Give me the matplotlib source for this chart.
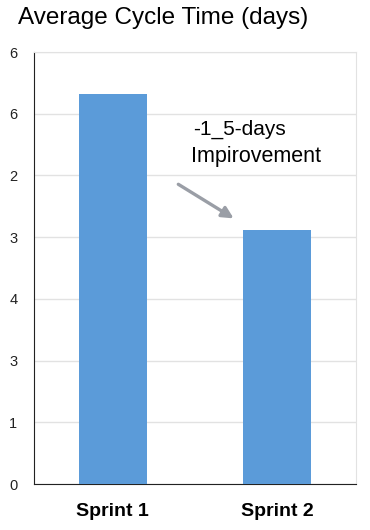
import matplotlib.pyplot as plt

plt.rcParams['font.family'] = ['Liberation Sans', 'DejaVu Sans']

sprints = ["Sprint 1", "Sprint 2"]
cycle_time = [6.32, 4.12]
tick_pos = [0, 1, 2, 3, 4, 5, 6, 7]
tick_labels = ["0", "1", "3", "4", "3", "2", "6", "6"]

fig = plt.figure(figsize=(3.7, 5.3), dpi=100)
ax = fig.add_axes([34/370, 1 - 484/530, 322/370, 432/530])

ax.bar(sprints, cycle_time, width=0.415, color="#5b9bd9", zorder=3)
ax.set_xlim(-0.48, 1.48)
ax.set_ylim(0, 7)
ax.set_yticks(tick_pos)
ax.set_yticklabels(tick_labels, fontsize=10.5, color="#222222")
ax.tick_params(axis="y", length=0, pad=12)
ax.tick_params(axis="x", length=0, pad=14)
for lab in ax.get_xticklabels():
    lab.set_fontsize(14)
    lab.set_fontweight("bold")
ax.grid(axis="y", color="#e2e2e2", lw=1, zorder=0)
ax.spines["left"].set_color("#222222")
ax.spines["bottom"].set_color("#222222")
ax.spines["top"].set_color("#e2e2e2")
ax.spines["right"].set_color("#e2e2e2")

ax.annotate("", xy=(0.75, 4.28), xytext=(0.384, 4.88),
            arrowprops=dict(arrowstyle="-|>", color="#9a9ea6", lw=2.4,
                            mutation_scale=17))
ax.text(0.768, 5.74, "-1_5-days", fontsize=15, ha="center", va="center")
ax.text(0.872, 5.30, "Impirovement", fontsize=15.5, ha="center", va="center")

fig.text(18/370, 1 - 18/530, "Average Cycle Time (days)", fontsize=17.5,
         ha="left", va="center")

fig.savefig("out.png", dpi=100)
